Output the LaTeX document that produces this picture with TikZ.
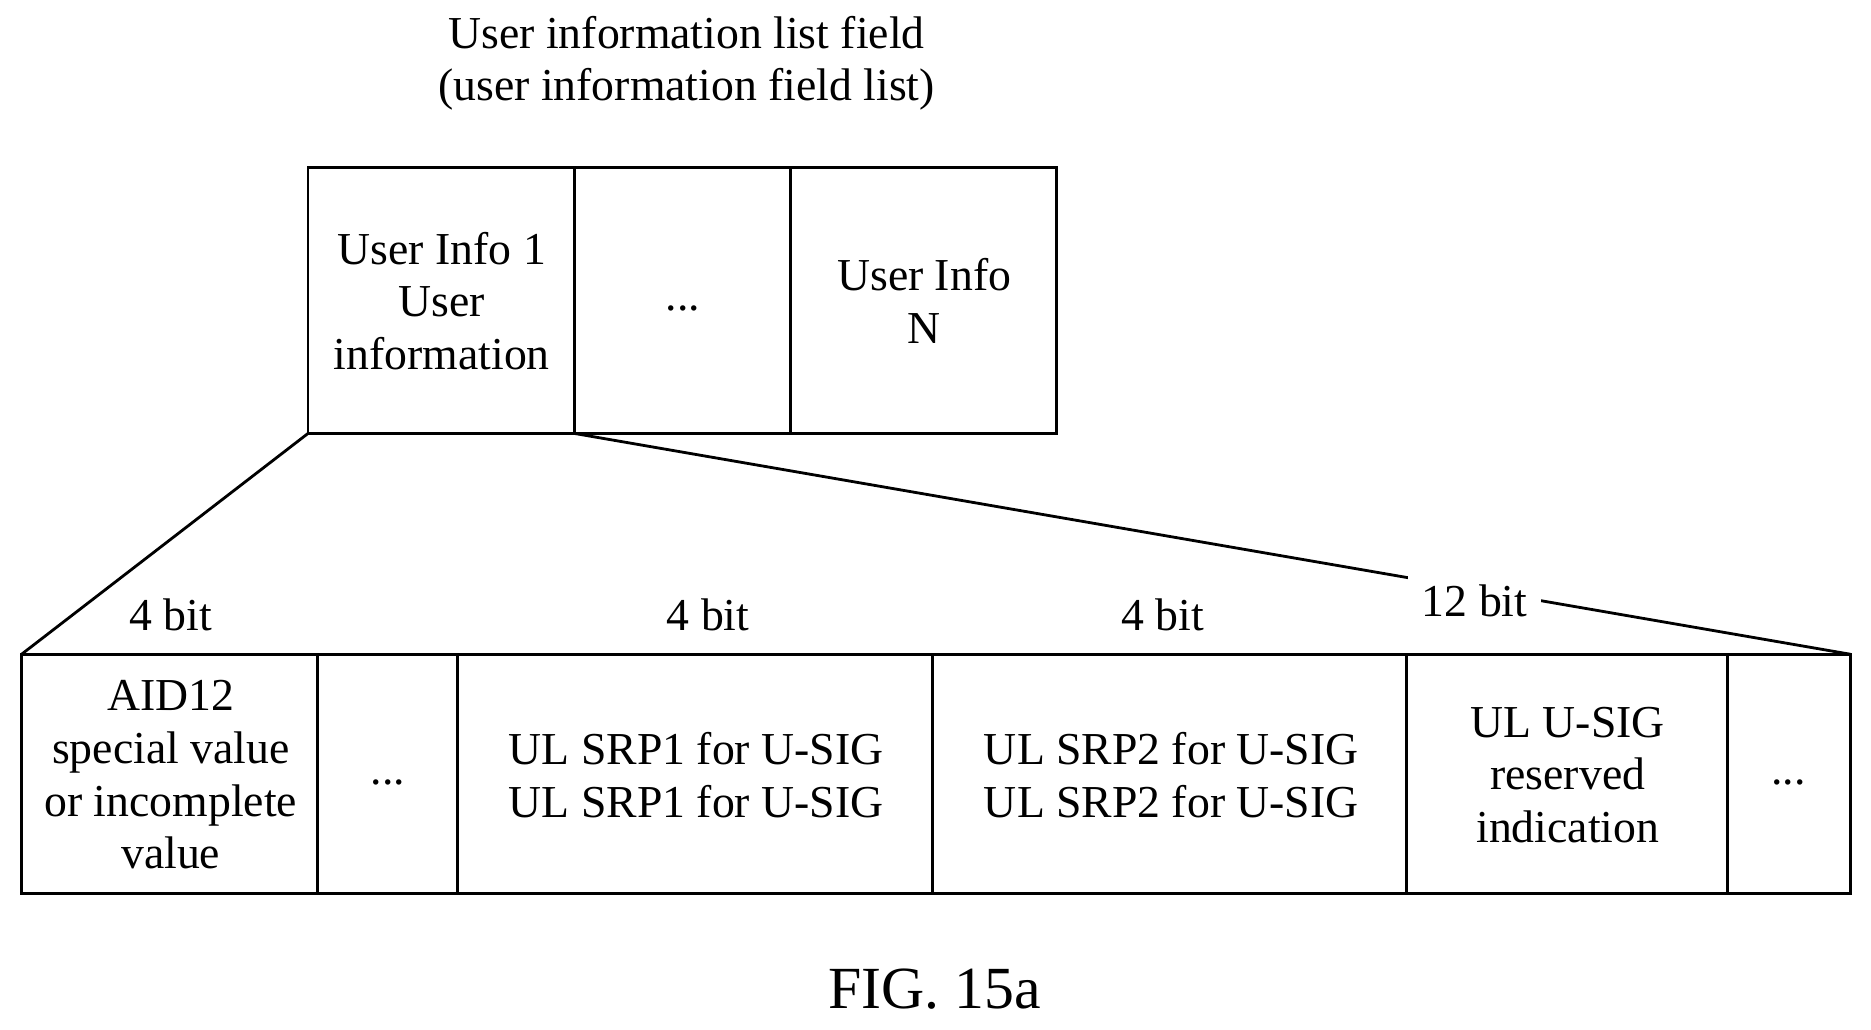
\documentclass[tikz,border=0pt]{standalone}
\usepackage{fontspec}
\setmainfont{Liberation Serif}
\usetikzlibrary{positioning}
\begin{document}
\begin{tikzpicture}[x=0.01194cm, y=-0.01194cm, line width=0.8pt,
  lbl/.style={font=\fontsize{13}{15}\selectfont, align=center, inner sep=1pt}]
	\useasboundingbox (0,0) rectangle (1567,862);

	\node[lbl](title) at (575,53){User information list field\\(user information field list)};

	\draw (258,140) rectangle (481,363);
	\draw (481,140) rectangle (662,363);
	\draw (662,140) rectangle (885,363);
	\node[lbl](info1) at (370,252){User Info 1\\User\\information};
	\node[lbl](infoDots) at (572,258){...};
	\node[lbl](infoN) at (774,252){User Info\\N};

	\coordinate (infoBL) at (258,363);
	\coordinate (infoBR) at (481,363);
	\coordinate (fieldTL) at (18,548);
	\coordinate (fieldTR) at (1550,548);

	\draw (18,548) rectangle (266,748);
	\draw (266,548) rectangle (383,748);
	\draw (383,548) rectangle (781,748);
	\draw (781,548) rectangle (1178,748);
	\draw (1178,548) rectangle (1447,748);
	\draw (1447,548) rectangle (1550,748);

	\node[lbl](aid) at (143,649){AID12\\special value\\or incomplete\\value};
	\node[lbl](dotsA) at (325,655){...};
	\node[lbl](srp1) at (583,649){UL SRP1 for U-SIG\\UL SRP1 for U-SIG};
	\node[lbl](srp2) at (981,649){UL SRP2 for U-SIG\\UL SRP2 for U-SIG};
	\node[lbl](rsv) at (1313,649){UL U-SIG\\reserved\\indication};
	\node[lbl](dotsB) at (1498,655){...};

	\draw (infoBL) -- (fieldTL);
	\draw (infoBR) -- (fieldTR);
	\node[lbl, fill=white, inner sep=4pt](bits12) at (1235,503){12 bit};
	\node[lbl](bitsA) at (143,515){4 bit};
	\node[lbl](bitsB) at (593,515){4 bit};
	\node[lbl](bitsC) at (974,515){4 bit};

	\node[font=\fontsize{17}{20}\selectfont](fig) at (783,828){FIG. 15a};
\end{tikzpicture}
\end{document}
